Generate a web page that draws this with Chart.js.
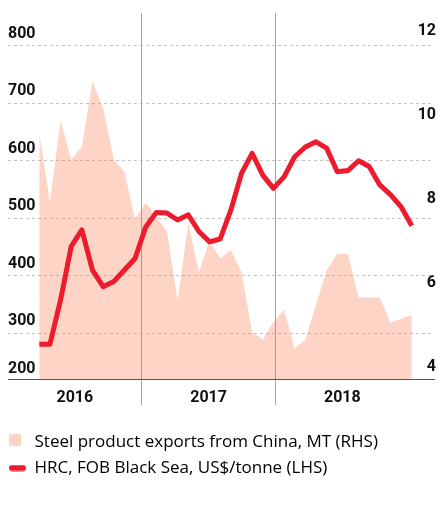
<!DOCTYPE html>
<html>
<head>
<meta charset="utf-8">
<script src="https://cdn.jsdelivr.net/npm/chart.js@4/dist/chart.umd.min.js"></script>
<style>
  html, body { margin: 0; padding: 0; background: #fff; }
  #wrap { width: 438px; height: 526px; }
</style>
</head>
<body>
<div id="wrap"><canvas id="myChart"></canvas></div>
<script>
"use strict";

// monthly points, Jan 2016 - Dec 2018
const years = ['2016', '2017', '2018'];
const monthNames = ['Jan', 'Feb', 'Mar', 'Apr', 'May', 'Jun', 'Jul', 'Aug', 'Sep', 'Oct', 'Nov', 'Dec'];
const months = years.flatMap(y => monthNames.map(m => m + ' ' + y));

// Steel product exports from China, MT (right axis)
const exportsChina = [9.56, 7.93, 9.86, 8.94, 9.24, 10.79, 10.16, 8.93, 8.65, 7.51, 7.91, 7.57,
  7.22, 5.57, 7.42, 6.26, 7.0, 6.58, 6.78, 6.26, 4.83, 4.64, 5.07, 5.35,
  4.44, 4.64, 5.47, 6.29, 6.69, 6.69, 5.65, 5.65, 5.65, 5.05, 5.14, 5.23];

// HRC, FOB Black Sea, US$/tonne (left axis)
const hrcBlackSea = [281, 281, 358, 451, 480, 410, 381, 390, 410, 430, 485, 510,
  509, 497, 506, 477, 459, 464, 514, 578, 613, 575, 552, 572,
  607, 624, 633, 622, 581, 583, 600, 590, 558, 541, 520, 487];

const leftTicks = [200, 300, 400, 500, 600, 700, 800];
const rightTicks = [4, 6, 8, 10, 12];
const legendLabels = ['Steel product exports from China, MT (RHS)', 'HRC, FOB Black Sea, US$/tonne (LHS)'];

const RED = '#ec1c2e';
const PINK = '#fdd5c6';
const PINK_FILL = 'rgba(250, 115, 70, 0.31)';
const tickFont = { family: "Roboto, 'Liberation Sans', sans-serif", size: 16, weight: 'bold' };

function swatch(w, h, draw) {
  const c = document.createElement('canvas');
  c.width = w;
  c.height = h;
  draw(c.getContext('2d'));
  return c;
}
const boxSwatch = swatch(17, 16, ctx => {
  ctx.fillStyle = PINK;
  ctx.fillRect(0, 0, 12, 12);
});
const lineSwatch = swatch(17, 7, ctx => {
  ctx.strokeStyle = RED;
  ctx.lineWidth = 6;
  ctx.lineCap = 'round';
  ctx.beginPath();
  ctx.moveTo(3, 3.5);
  ctx.lineTo(14, 3.5);
  ctx.stroke();
});

const toPoints = arr => arr.map((v, i) => ({ x: i, y: v }));

new Chart(document.getElementById('myChart'), {
  type: 'line',
  data: {
    labels: months,
    datasets: [{
      label: legendLabels[1],
      data: toPoints(hrcBlackSea),
      xAxisID: 'x',
      yAxisID: 'y',
      borderColor: RED,
      borderWidth: 5,
      borderJoinStyle: 'round',
      pointRadius: 0,
      fill: false,
      tension: 0,
      order: 0
    }, {
      label: legendLabels[0],
      data: toPoints(exportsChina),
      xAxisID: 'x',
      yAxisID: 'y1',
      backgroundColor: PINK_FILL,
      borderColor: 'rgba(0,0,0,0)',
      borderWidth: 0,
      pointRadius: 0,
      fill: 'start',
      tension: 0,
      order: 1
    }]
  },
  options: {
    responsive: true,
    maintainAspectRatio: false,
    animation: false,
    layout: { padding: { top: 13, bottom: 39.5, left: 0, right: 0 } },
    plugins: {
      tooltip: { enabled: false },
      legend: {
        position: 'bottom',
        align: 'start',
        labels: {
          usePointStyle: true,
          boxWidth: 17,
          boxHeight: 17,
          padding: 9,
          color: '#222',
          font: { family: "'Open Sans', sans-serif", size: 17 },
          generateLabels: () => [
            { text: legendLabels[0], pointStyle: boxSwatch, fillStyle: PINK, strokeStyle: 'rgba(0,0,0,0)', lineWidth: 0, hidden: false, datasetIndex: 1 },
            { text: legendLabels[1], pointStyle: lineSwatch, fillStyle: RED, strokeStyle: 'rgba(0,0,0,0)', lineWidth: 0, hidden: false, datasetIndex: 0 }
          ]
        }
      }
    },
    scales: {
      x: { type: 'linear', display: false, min: -2.94, max: 37.09 },
      xYear: {
        type: 'linear',
        position: 'bottom',
        min: 0,
        max: 430 / 135,
        afterBuildTicks: s => { s.ticks = [0.5, 1, 1.5, 2, 2.5].map(v => ({ value: v })); },
        afterFit: s => { s.height = 45.5; },
        grid: {
          color: c => Number.isInteger(c.tick && c.tick.value) ? '#a3a3a3' : 'rgba(0,0,0,0)',
          tickColor: c => Number.isInteger(c.tick && c.tick.value) ? '#a3a3a3' : 'rgba(0,0,0,0)',
          tickLength: 26
        },
        border: { display: true, color: '#555', width: 1 },
        ticks: {
          autoSkip: false,
          maxRotation: 0,
          padding: -17,
          color: '#111',
          font: tickFont,
          callback: v => Number.isInteger(v) ? '' : years[Math.floor(v)]
        }
      },
      y: {
        position: 'left',
        min: 220.5,
        max: 857,
        afterBuildTicks: s => { s.ticks = leftTicks.map(v => ({ value: v })); },
        afterFit: s => { s.width = 8; },
        grid: {
          color: c => (c.tick && c.tick.value === 200) ? 'rgba(0,0,0,0)' : '#c4c4c4',
          drawTicks: false,
          borderDash: [3, 3]
        },
        border: { display: false, dash: [3, 3] },
        ticks: {
          mirror: true,
          padding: 0,
          labelOffset: -12,
          color: '#111',
          font: tickFont,
          callback: v => v === 200 ? ['200', ''] : String(v)
        }
      },
      y1: {
        position: 'right',
        min: 3.707,
        max: 12.43,
        afterBuildTicks: s => { s.ticks = rightTicks.map(v => ({ value: v })); },
        grid: { display: false, drawTicks: false },
        border: { display: false },
        ticks: {
          mirror: true,
          padding: 2,
          color: '#111',
          font: tickFont,
          callback: v => String(v)
        }
      }
    }
  }
});
</script>
</body>
</html>
